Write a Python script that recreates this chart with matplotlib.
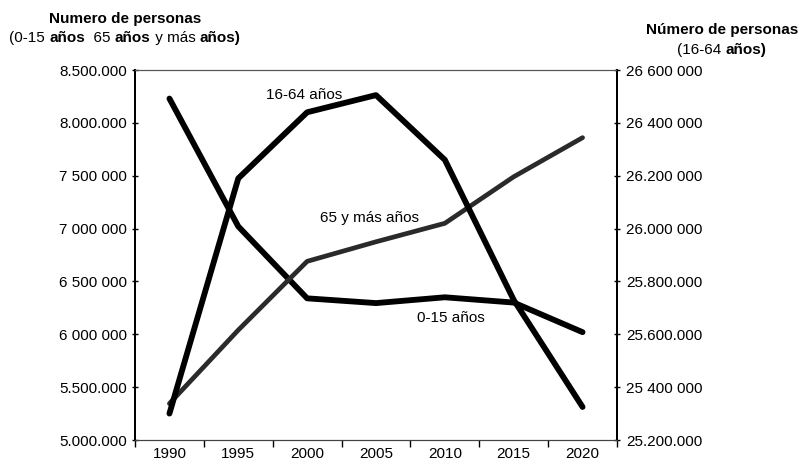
import matplotlib
matplotlib.use("Agg")
import matplotlib.pyplot as plt
from matplotlib.ticker import FixedLocator

plt.rcParams["font.family"] = ["Liberation Sans", "DejaVu Sans"]

years = ["1990", "1995", "2000", "2005", "2010", "2015", "2020"]
ninos = [8230000, 7020000, 6340000, 6295000, 6350000, 6300000, 6020000]      # 0-15 años
mayores = [5345000, 6040000, 6690000, 6875000, 7050000, 7490000, 7860000]    # 65 y más
activos = [25300000, 26190000, 26440000, 26505000, 26260000, 25730000, 25325000]  # 16-64

left_ticks = [5000000, 5500000, 6000000, 6500000, 7000000, 7500000, 8000000, 8500000]
left_labels = ["5.000.000", "5.500.000", "6 000 000", "6 500 000",
               "7 000 000", "7 500 000", "8.000.000", "8.500.000"]
right_ticks = [25200000, 25400000, 25600000, 25800000, 26000000, 26200000, 26400000, 26600000]
right_labels = ["25.200.000", "25 400 000", "25.600.000", "25.800.000",
                "26.000 000", "26.200 000", "26 400 000", "26 600 000"]

FS = 11

fig = plt.figure(figsize=(7.99, 4.63), dpi=100)
ax = fig.add_axes([135 / 799, 1 - 440 / 463, (617 - 135) / 799, (440 - 70) / 463])
ax2 = ax.twinx()

x = list(range(len(years)))
ax.plot(x, ninos, color="black", lw=4.2, solid_capstyle="round", solid_joinstyle="round")
ax.plot(x, mayores, color="#2a2a2a", lw=3.4, solid_capstyle="round", solid_joinstyle="round")
ax2.plot(x, activos, color="black", lw=4.2, solid_capstyle="round", solid_joinstyle="round")

ax.set_xlim(-0.5, len(years) - 0.5)
ax.set_ylim(5000000, 8500000)
ax2.set_ylim(25200000, 26600000)

ax.set_xticks(x)
ax.set_xticklabels(years, fontsize=FS)
ax.xaxis.set_minor_locator(FixedLocator([i - 0.5 for i in range(len(years) + 1)]))
ax.tick_params(axis="x", which="major", length=0, pad=5)
ax.tick_params(axis="x", which="minor", length=5, width=1, direction="out")

ax.set_yticks(left_ticks)
ax.set_yticklabels(left_labels, fontsize=FS)
ax.tick_params(axis="y", direction="inout", length=5, width=1, pad=3)
ax2.set_yticks(right_ticks)
ax2.set_yticklabels(right_labels, fontsize=FS)
ax2.tick_params(axis="y", direction="inout", length=5, width=1, pad=4)

for a in (ax, ax2):
    a.spines["top"].set_linestyle((0, (1, 1)))
    a.spines["top"].set_color("#555555")
    a.spines["bottom"].set_linestyle((0, (2, 1)))
    a.spines["bottom"].set_color("#444444")
    a.spines["left"].set_linewidth(1.4)
    a.spines["right"].set_linewidth(1.4)

ax.text(1.95, 8265000, "16-64 años", fontsize=FS, ha="center", va="center")
ax.text(2.91, 7100000, "65 y más años", fontsize=FS, ha="center", va="center")
ax.text(4.09, 6154000, "0-15 años", fontsize=FS, ha="center", va="center")

# cabeceras con partes en negrita
fig.text(125 / 799, 1 - 19 / 463, "Numero de personas", fontsize=FS, fontweight="bold",
         ha="center", va="center")
fig.text(722 / 799, 1 - 30 / 463, "Número de personas", fontsize=FS, fontweight="bold",
         ha="center", va="center")


def mixed(parts, xc, yc):
    fig.canvas.draw()
    r = fig.canvas.get_renderer()
    texts = []
    for s, w in parts:
        t = fig.text(0, 1 - yc / 463, s, fontsize=FS, fontweight=w, va="center")
        texts.append(t)
    widths = [t.get_window_extent(r).width for t in texts]
    x0 = xc - sum(widths) / 2
    for t, w in zip(texts, widths):
        t.set_x(x0 / 799)
        x0 += w


mixed([("(0-15 ", "normal"), ("años", "bold"), ("  65 ", "normal"), ("años", "bold"),
       (" y más ", "normal"), ("años)", "bold")], 125, 38)
mixed([("(16-64 ", "normal"), ("años)", "bold")], 722, 50)

fig.savefig("out.png", dpi=100)
